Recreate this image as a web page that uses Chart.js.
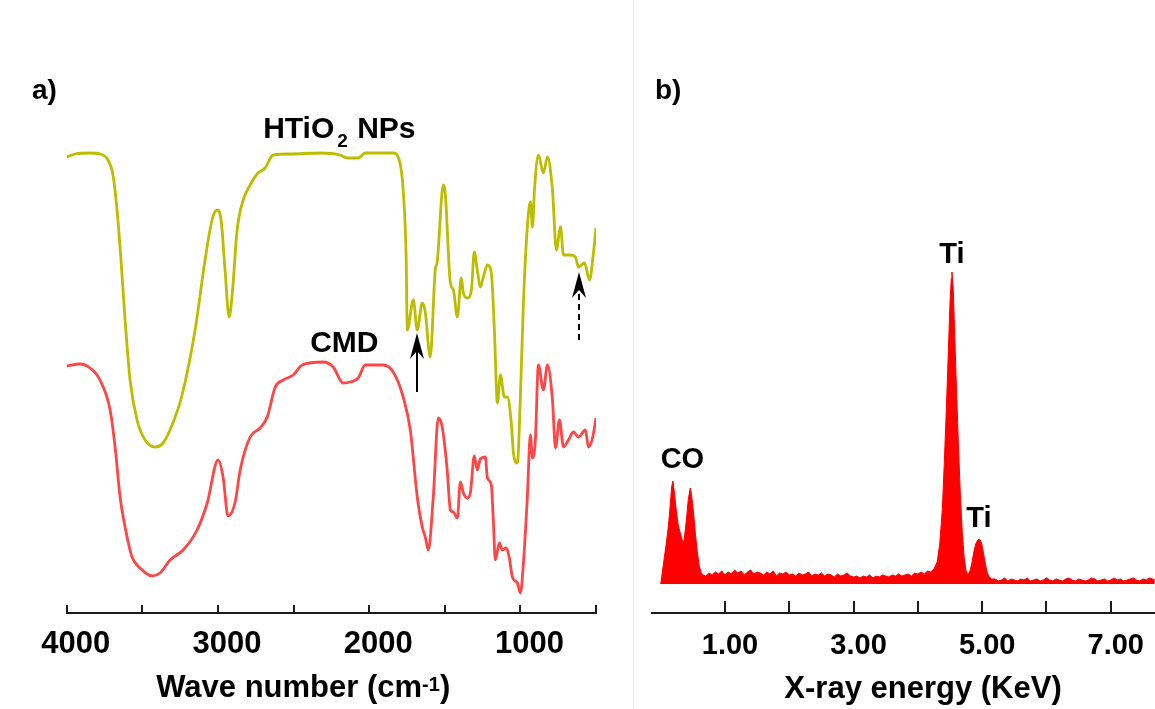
<!DOCTYPE html>
<html>
<head>
<meta charset="utf-8">
<script src="https://cdn.jsdelivr.net/npm/chart.js@4.4.1/dist/chart.umd.min.js"></script>
<style>
  html, body { margin: 0; padding: 0; background: #fff; }
  #wrap { position: relative; width: 1155px; height: 709px; overflow: hidden; }
  #ftir { position: absolute; left: 0; top: 0; }
  #edx { position: absolute; left: 633px; top: 0; }
  #divider { position: absolute; left: 633px; top: 0; width: 1px; height: 709px; background: #ececec; }
</style>
</head>
<body>
<div id="wrap">
  <canvas id="ftir" width="633" height="709"></canvas>
  <canvas id="edx" width="522" height="709"></canvas>
  <div id="divider"></div>
</div>
<script>
// ---- panel a: FTIR (transmittance, arbitrary units, curves offset) ----
const htWavenumber = [4000, 3945, 3846, 3780, 3727, 3694, 3667, 3641, 3614, 3581,
  3535, 3482, 3416, 3363, 3303, 3237, 3151, 3085, 3039, 3005,
  2979, 2953, 2926, 2906, 2873, 2833, 2787, 2741, 2688, 2635,
  2522, 2324, 2191, 2145, 2072, 2026, 1841, 1801, 1775, 1755,
  1748, 1708, 1682, 1649, 1629, 1596, 1563, 1550, 1510, 1497,
  1463, 1443, 1417, 1391, 1377, 1351, 1324, 1305, 1285, 1265,
  1245, 1218, 1192, 1172, 1152, 1132, 1106, 1086, 1060, 1046,
  1020, 1000, 980, 954, 934, 920, 907, 881, 848, 821,
  788, 762, 735, 715, 669, 636, 616, 576, 543, 517, 500];
const htTransmittance = [456, 459, 460, 459, 453, 438, 403, 353, 293, 233,
  193, 173, 166, 170, 188, 218, 283, 353, 393, 403,
  393, 343, 296, 318, 383, 413, 428, 439, 445, 458,
  459, 460, 458, 455, 455, 460, 460, 453, 423, 353,
  283, 313, 283, 310, 301, 256, 343, 351, 428, 420,
  330, 323, 296, 335, 320, 315, 323, 361, 343, 326,
  336, 348, 340, 283, 210, 238, 216, 216, 190, 160,
  150, 216, 310, 386, 411, 386, 423, 458, 440, 456,
  423, 363, 386, 358, 358, 356, 346, 350, 333, 360, 385];

const cmdWavenumber = [4000, 3912, 3846, 3780, 3713, 3680, 3647, 3614, 3568, 3515,
  3435, 3383, 3316, 3230, 3138, 3071, 2999, 2966, 2933, 2886,
  2853, 2787, 2721, 2674, 2621, 2568, 2502, 2443, 2304, 2238,
  2172, 2125, 2072, 2026, 1907, 1841, 1775, 1728, 1682, 1649,
  1629, 1609, 1576, 1543, 1517, 1484, 1463, 1443, 1417, 1397,
  1377, 1351, 1331, 1305, 1285, 1265, 1232, 1218, 1192, 1179,
  1166, 1139, 1119, 1093, 1073, 1053, 1020, 1000, 980, 954,
  934, 920, 901, 881, 848, 821, 788, 768, 742, 715,
  682, 649, 616, 570, 550, 523, 500];
const cmdTransmittance = [247, 249, 245, 233, 203, 166, 116, 86, 56, 45,
  37, 40, 53, 63, 83, 110, 153, 136, 97, 111,
  143, 176, 185, 196, 226, 233, 238, 248, 251, 246,
  230, 231, 235, 248, 248, 241, 216, 183, 116, 86,
  76, 63, 116, 195, 186, 143, 103, 101, 95, 131,
  120, 115, 120, 157, 143, 154, 156, 135, 128, 93,
  53, 70, 63, 65, 55, 36, 30, 20, 50, 116,
  178, 155, 173, 248, 223, 248, 213, 165, 193, 166,
  173, 181, 176, 183, 166, 175, 195];

// arrows: wavenumber, tail and tip in transmittance units
const ftirArrows = [
  { wn: 1682, from: 221, to: 280, dashed: false },
  { wn: 610, from: 273, to: 341, dashed: true }
];

// ---- panel b: EDX spectrum ----
const edxEnergy = [0.00, 0.03, 0.06, 0.09, 0.12, 0.15, 0.17, 0.19, 0.21, 0.24, 0.27, 0.30, 0.33, 0.35, 0.37, 0.40, 0.43, 0.46, 0.48, 0.51, 0.54, 0.57, 0.60, 0.63, 0.66,
  0.70, 0.75, 0.80, 0.85, 0.90, 0.95, 1.00, 1.05, 1.10, 1.15, 1.20, 1.25, 1.30, 1.35, 1.40, 1.45, 1.50,
  1.55, 1.60, 1.65, 1.70, 1.75, 1.80, 1.85, 1.90, 1.95, 2.00, 2.05, 2.10, 2.15, 2.20, 2.25, 2.30, 2.35, 2.40, 2.45, 2.50,
  2.55, 2.60, 2.65, 2.70, 2.75, 2.80, 2.85, 2.90, 2.95, 3.00, 3.05, 3.10, 3.15, 3.20, 3.25, 3.30, 3.35, 3.40, 3.45, 3.50,
  3.55, 3.60, 3.65, 3.70, 3.75, 3.80, 3.85, 3.90, 3.95, 4.00, 4.05, 4.10, 4.15, 4.20,
  4.25, 4.30, 4.34, 4.38, 4.41, 4.44, 4.47, 4.50, 4.52, 4.53, 4.55, 4.57, 4.60, 4.63, 4.66, 4.69, 4.72, 4.75, 4.78, 4.81,
  4.84, 4.87, 4.90, 4.93, 4.96, 4.99, 5.02, 5.05, 5.08, 5.11, 5.15,
  5.20, 5.25, 5.30, 5.35, 5.40, 5.45, 5.50, 5.55, 5.60, 5.65, 5.70, 5.75, 5.80, 5.85, 5.90, 5.95, 6.00, 6.05, 6.10, 6.15,
  6.20, 6.25, 6.30, 6.35, 6.40, 6.45, 6.50, 6.55, 6.60, 6.65, 6.70, 6.75, 6.80, 6.85, 6.90, 6.95, 7.00, 7.05, 7.10, 7.15,
  7.20, 7.25, 7.30, 7.35, 7.40, 7.45, 7.50, 7.55, 7.60, 7.65, 7.70];
const edxCounts = [0, 14, 28, 42, 58, 80, 97, 103, 93, 75, 60, 52, 45, 40, 47, 64, 85, 96, 89, 72, 50, 32, 18, 11, 9,
  8, 11, 9, 12, 10, 13, 9, 12, 10, 14, 11, 13, 9, 12, 14, 10, 12,
  11, 9, 12, 10, 13, 8, 11, 10, 12, 9, 10, 8, 11, 9, 10, 12, 8, 10, 9, 11,
  8, 10, 9, 7, 10, 8, 9, 11, 8, 7, 8, 6, 8, 7, 9, 6, 8, 7, 9, 8,
  7, 9, 8, 10, 8, 9, 10, 8, 11, 10, 12, 10, 13, 12,
  15, 22, 40, 75, 120, 170, 225, 282, 306, 312, 295, 255, 195, 140, 90, 52, 26, 13, 9, 13,
  21, 32, 40, 44, 45, 41, 31, 20, 11, 7, 5,
  5, 3, 4, 6, 3, 5, 4, 3, 5, 4, 6, 3, 4, 5, 3, 4, 6, 4, 3, 5,
  4, 3, 5, 6, 4, 3, 5, 4, 3, 4, 6, 5, 3, 4, 5, 3, 4, 6, 4, 5,
  3, 4, 5, 6, 4, 3, 5, 4, 6, 5, 4];

const edxPeakLabels = [
  { text: 'CO', e: 0.0, c: 116, align: 'left' },
  { text: 'Ti', e: 4.53, c: 321, align: 'center' },
  { text: 'Ti', e: 4.95, c: 57, align: 'center' }
];

const FONT = "'Liberation Sans', Arial, Helvetica, sans-serif";
Chart.defaults.font.family = FONT;
Chart.defaults.color = '#000';

function txt(ctx, s, x, y, size, align) {
  ctx.font = `bold ${size}px ${FONT}`;
  ctx.textAlign = align || 'left';
  ctx.textBaseline = 'alphabetic';
  ctx.fillStyle = '#000';
  ctx.fillText(s, x, y);
  return ctx.measureText(s).width;
}

// tick marks pointing up into the plot
function upTicks(chart, len, keep) {
  const xs = chart.scales.x, ctx = chart.ctx, y0 = chart.chartArea.bottom;
  ctx.save();
  ctx.strokeStyle = '#1a1a1a';
  ctx.lineWidth = 2;
  xs.ticks.forEach(t => {
    if (!keep(t.value)) return;
    const px = Math.round(xs.getPixelForValue(t.value));
    ctx.beginPath();
    ctx.moveTo(px, y0);
    ctx.lineTo(px, y0 - len);
    ctx.stroke();
  });
  ctx.restore();
}

function arrow(ctx, x, yTail, yTip, dashed) {
  ctx.save();
  ctx.strokeStyle = '#000';
  ctx.fillStyle = '#000';
  ctx.lineWidth = 2;
  if (dashed) ctx.setLineDash([6, 4]);
  ctx.beginPath();
  ctx.moveTo(x, yTail);
  ctx.lineTo(x, yTip + 18);
  ctx.stroke();
  ctx.setLineDash([]);
  ctx.beginPath();
  ctx.moveTo(x, yTip);
  ctx.lineTo(x + 7, yTip + 26);
  ctx.lineTo(x, yTip + 18);
  ctx.lineTo(x - 7, yTip + 26);
  ctx.closePath();
  ctx.fill();
  ctx.restore();
}

const ftirDecor = {
  id: 'ftirDecor',
  afterDraw(chart) {
    const ctx = chart.ctx, xs = chart.scales.x, ys = chart.scales.y;
    upTicks(chart, 8, () => true);
    txt(ctx, 'a)', 32, 99, 28);
    // curve labels
    let x = xs.getPixelForValue(2701), y = ys.getPixelForValue(475);
    x += txt(ctx, 'HTiO', x, y, 30) + 3;
    x += txt(ctx, '2', x, y + 9, 19) + 1;
    txt(ctx, ' NPs', x, y, 30);
    txt(ctx, 'CMD', xs.getPixelForValue(2390), ys.getPixelForValue(261), 30);
    ftirArrows.forEach(a => {
      arrow(ctx, Math.round(xs.getPixelForValue(a.wn)), ys.getPixelForValue(a.from), ys.getPixelForValue(a.to), a.dashed);
    });
    // axis title with superscript
    ctx.font = `bold 31px ${FONT}`;
    const w1 = ctx.measureText('Wave number (cm').width;
    ctx.font = `bold 20px ${FONT}`;
    const w2 = ctx.measureText('-1').width;
    ctx.font = `bold 31px ${FONT}`;
    const w3 = ctx.measureText(')').width;
    let tx = xs.getPixelForValue(2436) - (w1 + w2 + w3) / 2;
    tx += txt(ctx, 'Wave number (cm', tx, 697, 31);
    tx += txt(ctx, '-1', tx, 691, 20);
    txt(ctx, ')', tx, 697, 31);
  }
};

const edxDecor = {
  id: 'edxDecor',
  afterDraw(chart) {
    const ctx = chart.ctx, xs = chart.scales.x, ys = chart.scales.y;
    upTicks(chart, 12, v => v >= 1);
    txt(ctx, 'b)', 22, 99, 28);
    edxPeakLabels.forEach(l => {
      txt(ctx, l.text, xs.getPixelForValue(l.e), ys.getPixelForValue(l.c), 29, l.align);
    });
    txt(ctx, 'X-ray energy (KeV)', xs.getPixelForValue(4.08), 698, 31, 'center');
  }
};

const tickFontA = { family: FONT, size: 31, weight: 'bold' };
const tickFontB = { family: FONT, size: 29, weight: 'bold' };

new Chart(document.getElementById('ftir').getContext('2d'), {
  type: 'line',
  data: {
    datasets: [
      { label: 'HTiO2 NPs', data: htWavenumber.map((w, i) => ({ x: w, y: htTransmittance[i] })),
        borderColor: '#bdbd00', borderWidth: 2.8, pointRadius: 0, cubicInterpolationMode: 'monotone', fill: false },
      { label: 'CMD', data: cmdWavenumber.map((w, i) => ({ x: w, y: cmdTransmittance[i] })),
        borderColor: '#ff4646', borderWidth: 2.8, pointRadius: 0, cubicInterpolationMode: 'monotone', fill: false }
    ]
  },
  options: {
    responsive: false, animation: false,
    layout: { padding: { left: 66.7, right: 37, top: 100, bottom: 0 } },
    plugins: { legend: { display: false }, tooltip: { enabled: false } },
    scales: {
      x: {
        type: 'linear', reverse: true, min: 500, max: 4000,
        grid: { display: false, drawTicks: false },
        border: { display: true, color: '#1a1a1a', width: 2 },
        ticks: { stepSize: 500, autoSkip: false, maxRotation: 0, padding: 13, labelOffset: 9,
          font: tickFontA, color: '#000', callback: v => (v % 1000 === 0 ? String(v) : '') },
        afterFit: s => { s.height = 96; }
      },
      y: { display: false, min: 0, max: 513 }
    }
  },
  plugins: [ftirDecor]
});

new Chart(document.getElementById('edx').getContext('2d'), {
  type: 'line',
  data: {
    datasets: [
      { label: 'EDX', data: edxEnergy.map((e, i) => ({ x: e, y: edxCounts[i] })),
        borderColor: '#ff0000', backgroundColor: '#ff0000', borderWidth: 1, pointRadius: 0, tension: 0, fill: 'origin' }
    ]
  },
  options: {
    responsive: false, animation: false,
    layout: { padding: { left: 19, right: 0, top: 100, bottom: 0 } },
    plugins: { legend: { display: false }, tooltip: { enabled: false } },
    scales: {
      x: {
        type: 'linear', min: -0.135, max: 7.684,
        grid: { display: false, drawTicks: false },
        border: { display: true, color: '#1a1a1a', width: 2 },
        ticks: { stepSize: 1, includeBounds: false, autoSkip: false, maxRotation: 0, padding: 16, labelOffset: 5,
          font: tickFontB, color: '#000',
          callback: v => (Math.abs(v - Math.round(v)) < 1e-6 && Math.round(v) % 2 === 1 ? v.toFixed(2) : '') },
        afterFit: s => { s.height = 96; }
      },
      y: { display: false, min: -29, max: 484 }
    }
  },
  plugins: [edxDecor]
});
</script>
</body>
</html>
